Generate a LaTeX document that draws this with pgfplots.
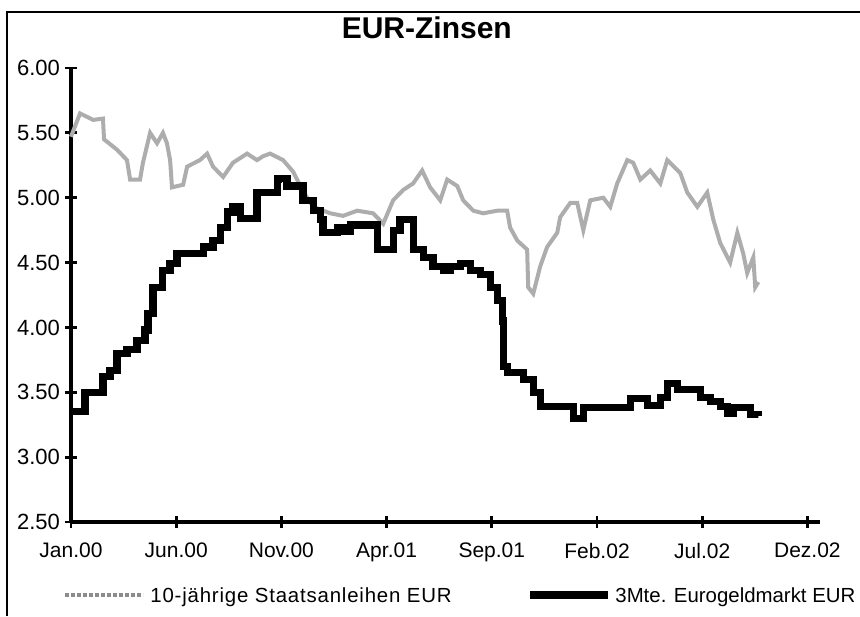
\documentclass[border=0pt]{standalone}
\usepackage{pgfplots}
\pgfplotsset{compat=1.18}
\usepackage{fontspec}
\setmainfont{Liberation Sans}
\begin{document}
\begin{tikzpicture}
\useasboundingbox (-35.5pt,-47pt) rectangle (394.5pt,261pt);
\draw[line width=1pt] (-32pt,-47pt) -- (-32pt,255pt) -- (394.5pt,255pt);
\begin{axis}[
  at={(0,0)}, anchor=south west,
  scale only axis,
  width=374.5pt, height=227pt,
  xmin=0, xmax=35.6, ymin=2.5, ymax=6.0,
  axis x line=bottom, axis y line=left,
  axis line style={line width=1.6pt,-},
  tick style={line width=1.4pt,black},
  major tick length=6pt,
  tick align=center,
  xtick={0,5,10,15,20,25,30,35},
  xticklabels={Jan.00,Jun.00,Nov.00,Apr.01,Sep.01,Feb.02,Jul.02,Dez.02},
  ytick={2.5,3,3.5,4,4.5,5,5.5,6},
  yticklabels={2.50,3.00,3.50,4.00,4.50,5.00,5.50,6.00},
  xticklabel style={font=\fontsize{10.5}{12}\selectfont, yshift=-4pt},
  yticklabel style={font=\fontsize{11}{12}\selectfont, xshift=1pt},
  title={\textbf{EUR-Zinsen}},
  title style={font=\fontsize{15}{16}\selectfont, at={(0.475,1)}, anchor=south, yshift=5pt},
  clip=false,
]
\addplot[black!32, line width=2pt, sharp plot]
coordinates {
(0.00,5.47) (0.19,5.55) (0.43,5.65) (1.05,5.60) (1.52,5.61) (1.57,5.45)
(2.19,5.37) (2.66,5.29) (2.81,5.14) (3.28,5.14) (3.42,5.27) (3.76,5.50)
(4.09,5.42) (4.37,5.50) (4.56,5.42) (4.71,5.29) (4.80,5.08) (5.33,5.10)
(5.52,5.24) (6.13,5.29) (6.47,5.34) (6.75,5.24) (7.23,5.16) (7.70,5.27)
(8.37,5.34) (8.84,5.29) (9.13,5.32) (9.46,5.34) (10.08,5.29) (10.56,5.20)
(11.03,5.05) (11.51,4.93) (12.32,4.88) (12.93,4.86) (13.60,4.90) (14.36,4.88)
(14.84,4.80) (15.31,4.98) (15.79,5.06) (16.26,5.11) (16.69,5.21) (17.07,5.08)
(17.55,4.98) (17.88,5.14) (18.36,5.09) (18.64,4.98) (19.12,4.90) (19.59,4.88)
(20.26,4.90) (20.73,4.90) (20.87,4.77) (21.21,4.67) (21.68,4.60) (21.73,4.31)
(21.97,4.26) (22.30,4.47) (22.63,4.62) (23.11,4.73) (23.25,4.85) (23.73,4.96)
(24.06,4.96) (24.35,4.75) (24.68,4.98) (25.30,5.00) (25.63,4.93) (25.96,5.11)
(26.44,5.29) (26.72,5.27) (27.06,5.14) (27.53,5.21) (28.01,5.11) (28.34,5.29)
(28.96,5.19) (29.29,5.04) (29.77,4.93) (30.24,5.04) (30.53,4.83) (30.86,4.65)
(31.33,4.50) (31.67,4.73) (31.95,4.57) (32.14,4.42) (32.43,4.54) (32.52,4.31)
(32.67,4.35)
};
\addplot[black, line width=3.6pt, const plot]
coordinates {
(0.00,3.35) (0.67,3.50) (1.52,3.62) (1.85,3.67) (2.19,3.80) (2.66,3.83)
(3.14,3.90) (3.52,3.98) (3.66,4.11) (3.90,4.31) (4.33,4.44) (4.71,4.49)
(5.04,4.57) (6.28,4.62) (6.75,4.67) (7.09,4.77) (7.42,4.89) (7.70,4.93)
(8.04,4.84) (8.84,5.04) (9.80,5.14) (9.84,5.15) (10.27,5.09) (11.03,4.98)
(11.51,4.90) (11.84,4.83) (11.98,4.73) (12.65,4.77) (12.93,4.74) (13.27,4.79)
(14.55,4.60) (15.31,4.75) (15.64,4.83) (16.26,4.60) (16.74,4.54) (17.21,4.47)
(17.69,4.44) (18.02,4.47) (18.50,4.49) (18.97,4.44) (19.45,4.41) (19.92,4.31)
(20.26,4.21) (20.49,4.05) (20.54,3.70) (20.73,3.65) (21.49,3.60) (21.97,3.50)
(22.30,3.39) (23.87,3.30) (24.35,3.38) (26.11,3.38) (26.58,3.45) (27.39,3.40)
(28.01,3.46) (28.34,3.57) (28.82,3.52) (29.91,3.46) (30.39,3.43) (30.86,3.39)
(31.19,3.34) (31.48,3.38) (32.29,3.33) (32.67,3.32)
};
\end{axis}
% legend
\draw[black!45, line width=2pt, densely dotted] (-3pt,-36.5pt) -- (36pt,-36.5pt);
\node[anchor=base west, inner sep=0pt, font=\fontsize{10.2}{12}\selectfont] at (39.5pt,-40.2pt) {\addfontfeatures{LetterSpace=4}10-jährige Staatsanleihen EUR};
\draw[black, line width=3.6pt] (229.5pt,-36.5pt) -- (268.5pt,-36.5pt);
\node[anchor=base west, inner sep=0pt, font=\fontsize{10.2}{12}\selectfont] at (272pt,-40.2pt) {3Mte. Eurogeldmarkt EUR};
\end{tikzpicture}
\end{document}
